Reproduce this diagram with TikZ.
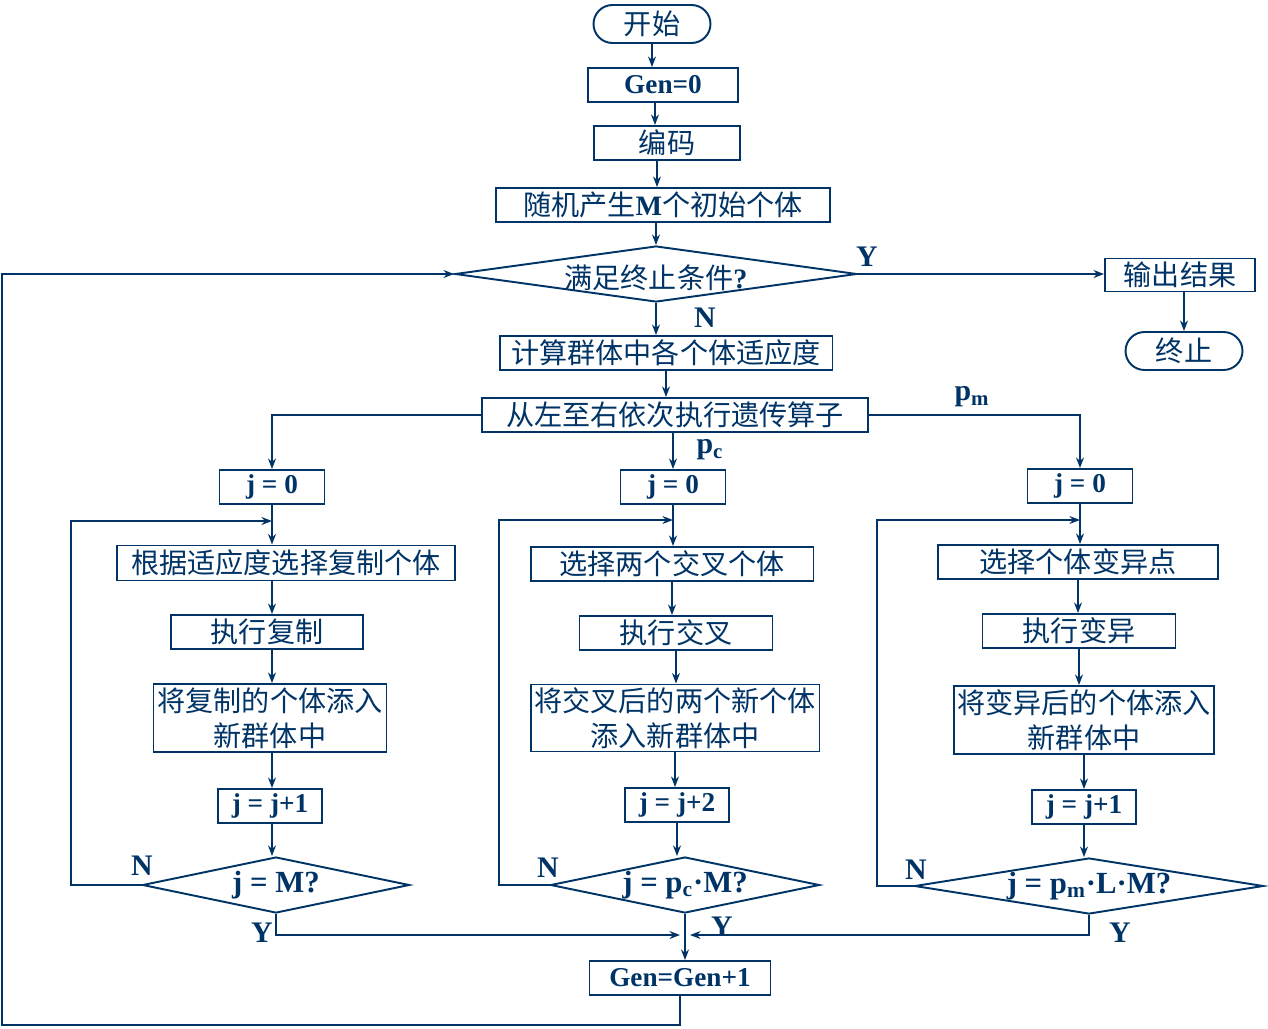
\documentclass[tikz,border=0pt]{standalone}
\usepackage{fontspec}
\setmainfont{Liberation Serif}
\newfontfamily\cjk{Noto Sans CJK SC}
\usepackage{tikz}
\usetikzlibrary{shapes.geometric,arrows.meta}
\definecolor{navy}{RGB}{0,51,102}
\newcommand{\lat}[1]{{\rmfamily\bfseries #1}}
\newcommand{\sbs}[1]{\textsubscript{#1}}

\begin{document}
\begin{tikzpicture}[x=0.02cm, y=-0.02cm, color=navy, line width=1.1pt,
    >={Stealth[length=6pt,width=4.5pt]},
    every node/.style={font=\cjk\fontsize{16}{20}\selectfont},
    blk/.style={draw, rectangle, minimum height=0.68cm, inner sep=0pt, align=center},
    term/.style={blk, rounded corners=0.38cm, minimum width=2.34cm, minimum height=0.76cm},
    dec/.style={draw, diamond, inner sep=0pt, minimum height=1.12cm},
    lat/.style={font=\rmfamily\bfseries\fontsize{15.5}{18}\selectfont},
    dtxt/.style={font=\rmfamily\bfseries\fontsize{17.5}{20}\selectfont},
    tag/.style={font=\rmfamily\bfseries\fontsize{17}{20}\selectfont}]
  \useasboundingbox (0,0) rectangle (1268,1028);

  % main line
  \node[term] (start) at (652,24) {开始};
  \node[blk, lat, minimum width=3cm] (gen0) at (663,85) {Gen=0};
  \node[blk, minimum width=2.92cm] (code) at (667,143) {编码};
  \node[blk, minimum width=6.68cm] (init) at (663,205) {随机产生\lat{M}个初始个体};
  \node[dec, minimum width=8.04cm, label={[yshift=-2pt]center:满足终止条件\lat{?}}] (cond) at (656,274) {};
  \node[blk, minimum width=3cm, minimum height=0.66cm] (out) at (1180,275) {输出结果};
  \node[term] (stop) at (1184,351) {终止};
  \node[blk, minimum width=6.66cm] (fit) at (666,353) {计算群体中各个体适应度};
  \node[blk, minimum width=7.72cm] (ops) at (675,415) {从左至右依次执行遗传算子};

  \node[blk, lat, minimum width=2.1cm] (jl0) at (272,487) {j = 0};
  \node[blk, lat, minimum width=2.1cm] (jc0) at (673,487) {j = 0};
  \node[blk, lat, minimum width=2.1cm] (jr0) at (1080,486) {j = 0};

  % selection
  \node[blk, minimum width=6.76cm, minimum height=0.7cm] (sel) at (286,563) {根据适应度选择复制个体};
  \node[blk, minimum width=3.84cm] (copy) at (267,632) {执行复制};
  \node[blk, minimum width=4.66cm, minimum height=1.36cm] (addl) at (270,718) {将复制的个体添入\\新群体中};
  \node[blk, lat, minimum width=2.08cm] (incl) at (270,806) {j = j+1};
  \node[dec, minimum width=5.34cm, label={[dtxt]center:j = M?}] (chkl) at (276,885) {};

  % crossover
  \node[blk, minimum width=5.66cm] (pick) at (672,564) {选择两个交叉个体};
  \node[blk, minimum width=3.86cm] (cross) at (676,633) {执行交叉};
  \node[blk, minimum width=5.78cm, minimum height=1.34cm] (addc) at (675,718) {将交叉后的两个新个体\\添入新群体中};
  \node[blk, lat, minimum width=2.08cm] (incc) at (677,805) {j = j+2};
  \node[dec, minimum width=5.38cm, label={[dtxt]center:j = p\sbs{c}·M?}] (chkc) at (685,885) {};

  % mutation
  \node[blk, minimum width=5.6cm] (mpt) at (1078,562) {选择个体变异点};
  \node[blk, minimum width=3.86cm] (mut) at (1079,631) {执行变异};
  \node[blk, minimum width=5.2cm, minimum height=1.36cm] (addr) at (1084,720) {将变异后的个体添入\\新群体中};
  \node[blk, lat, minimum width=2.08cm] (incr) at (1084,807) {j = j+1};
  \node[dec, minimum width=6.98cm, label={[dtxt]center:j = p\sbs{m}·L·M?}] (chkr) at (1089,886) {};

  \node[blk, lat, minimum width=3.62cm] (genup) at (680,978) {Gen=Gen+1};

  \coordinate (ml) at (272,521);
  \coordinate (mc) at (673,520);
  \coordinate (mr) at (1080,520);
  \coordinate (mg) at (685,935);
  \coordinate (back) at (2,1025);

  % labels
  \node[tag] (ylab) at (867,257) {Y};
  \node[tag] (nlab) at (705,318) {N};
  \node[tag] (pc) at (710,450) {p\sbs{c}};
  \node[tag] (pm) at (972,397) {p\sbs{m}};
  \node[tag] (nl) at (142,866) {N};
  \node[tag] (yl) at (262,933) {Y};
  \node[tag] (nc) at (548,868) {N};
  \node[tag] (yc) at (722,927) {Y};
  \node[tag] (nr) at (916,870) {N};
  \node[tag] (yr) at (1120,933) {Y};

  % connectors
  \draw[->] (start.south) -- (start.south |- gen0.north);
  \draw[->] ([xshift=-0.16cm]gen0.south) -- ([xshift=-0.16cm]gen0.south |- code.north);
  \draw[->] ([xshift=-0.2cm]code.south) -- ([xshift=-0.2cm]code.south |- init.north);
  \draw[->] (cond.north |- init.south) -- (cond.north);
  \draw[->] (cond.east) -- (cond.east -| out.west);
  \draw[->] (out.south -| stop.north) -- (stop.north);
  \draw[->] (cond.south) -- (cond.south |- fit.north);
  \draw[->] (fit.south) -- (fit.south |- ops.north);
  \draw[->] (ops.west) -| (jl0.north);
  \draw[->] (jc0.north |- ops.south) -- (jc0.north);
  \draw[->] (ops.east) -| (jr0.north);

  \draw[->] (jl0.south) -- (jl0.south |- sel.north);
  \draw[->] (jl0.south |- sel.south) -- (jl0.south |- copy.north);
  \draw[->] (jl0.south |- copy.south) -- (jl0.south |- addl.north);
  \draw[->] (jl0.south |- addl.south) -- (jl0.south |- incl.north);
  \draw[->] (jl0.south |- incl.south) -- (jl0.south |- chkl.north);
  \draw[->] (chkl.west) -- ++(-71,0) |- (ml);

  \draw[->] (jc0.south) -- (jc0.south |- pick.north);
  \draw[->] (pick.south) -- (pick.south |- cross.north);
  \draw[->] (cross.south) -- (cross.south |- addc.north);
  \draw[->] (addc.south) -- (addc.south |- incc.north);
  \draw[->] (incc.south) -- (incc.south |- chkc.north);
  \draw[->] (chkc.west) -- ++(-51,0) |- (mc);

  \draw[->] (jr0.south) -- (jr0.south |- mpt.north);
  \draw[->] (mpt.south) -- (mpt.south |- mut.north);
  \draw[->] (mut.south) -- (mut.south |- addr.north);
  \draw[->] (addr.south) -- (addr.south |- incr.north);
  \draw[->] (incr.south) -- (incr.south |- chkr.north);
  \draw[->] (chkr.west) -- ++(-37,0) |- (mr);

  \draw[->] (chkl.south) |- ([xshift=-0.1cm]mg);
  \draw[->] (chkr.south) |- ([xshift=0.1cm]mg);
  \draw[->] (chkc.south) -- (chkc.south |- genup.north);
  \draw[->] (genup.south) |- (back) |- (cond.west);
\end{tikzpicture}
\end{document}
